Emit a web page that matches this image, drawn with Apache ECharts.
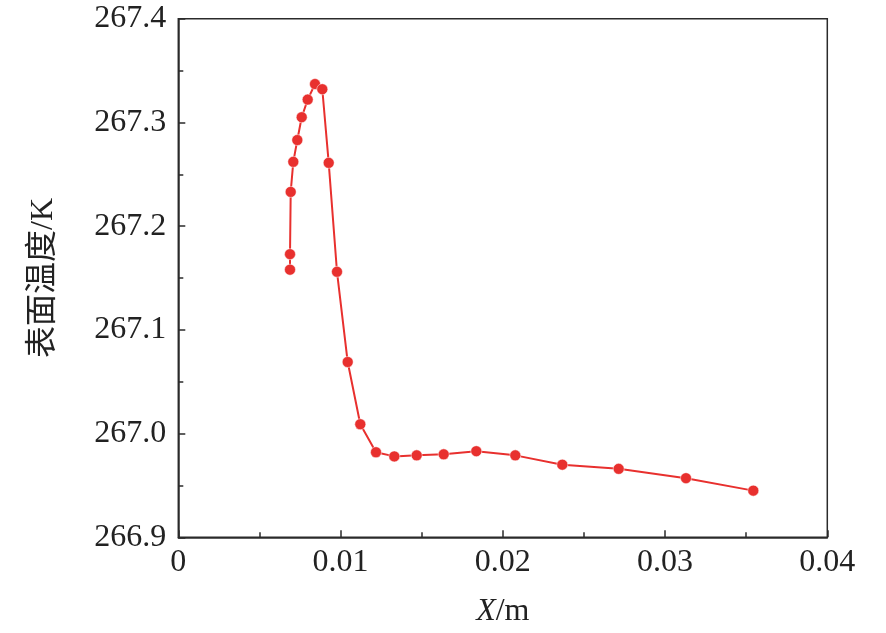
<!DOCTYPE html>
<html><head><meta charset="utf-8">
<script src="https://cdn.jsdelivr.net/npm/echarts@6/dist/echarts.min.js"></script>
<style>html,body{margin:0;padding:0;background:#fff}#c{width:886px;height:633px}</style>
</head><body><div id="c"></div>
<script>
const xValues = [0.006885,0.006885,0.006928,0.007088,0.007335,0.007606,0.007975,0.008425,0.008875,0.009270,0.009781,0.010441,0.011217,0.012185,0.013313,0.014693,0.016357,0.018367,0.020770,0.023667,0.027143,0.031291,0.035439];
const yValues = [267.158,267.173,267.233,267.262,267.283,267.305,267.322,267.337,267.332,267.261,267.156,267.069,267.009,266.982,266.978,266.979,266.980,266.983,266.979,266.970,266.966,266.957,266.945];
const xTicks = [0,0.01,0.02,0.03,0.04];
const yTicks = [266.9,267.0,267.1,267.2,267.3,267.4];

const font = '"Liberation Serif","Noto Sans CJK SC",serif';
const axisColor = '#2b2b2b';
const chart = echarts.init(document.getElementById('c'));
chart.setOption({
  animation:false,
  grid:{left:178.3,right:58.7,top:18.7,bottom:95.7,show:true,borderColor:axisColor,borderWidth:1.5,backgroundColor:'transparent'},
  xAxis:{type:'value',min:xTicks[0],max:xTicks[xTicks.length-1],interval:0.01,
    name:'{i|X}/m',nameLocation:'middle',nameGap:58,
    nameTextStyle:{fontFamily:font,fontSize:32,color:'#222',rich:{i:{fontFamily:font,fontStyle:'italic',fontSize:32,color:'#222'}}},
    axisLine:{lineStyle:{color:axisColor,width:1.5}},
    axisTick:{inside:true,length:7,lineStyle:{color:axisColor,width:1.5}},
    minorTick:{show:true,splitNumber:2,length:5,lineStyle:{color:axisColor,width:1.5}},
    splitLine:{show:false},
    axisLabel:{margin:9,fontFamily:font,fontSize:32,color:'#222',formatter:v=>String(parseFloat(v.toFixed(4)))}},
  yAxis:{type:'value',min:yTicks[0],max:yTicks[yTicks.length-1],interval:0.1,
    name:'表面温度/K',nameLocation:'middle',nameGap:119,nameRotate:90,
    nameTextStyle:{fontFamily:font,fontSize:32,color:'#222'},
    axisLine:{lineStyle:{color:axisColor,width:1.5}},
    axisTick:{inside:true,length:7,lineStyle:{color:axisColor,width:1.5}},
    minorTick:{show:true,splitNumber:2,length:5,lineStyle:{color:axisColor,width:1.5}},
    splitLine:{show:false},
    axisLabel:{margin:12,fontFamily:font,fontSize:32,color:'#222',formatter:v=>v.toFixed(1)}},
  series:[{type:'line',data:xValues.map((x,i)=>[x,yValues[i]]),
    symbol:'circle',symbolSize:11,
    lineStyle:{color:'#e8302e',width:2},
    itemStyle:{color:'#e8302e',borderColor:'#fff',borderWidth:0.5}}]
});
</script></body></html>
